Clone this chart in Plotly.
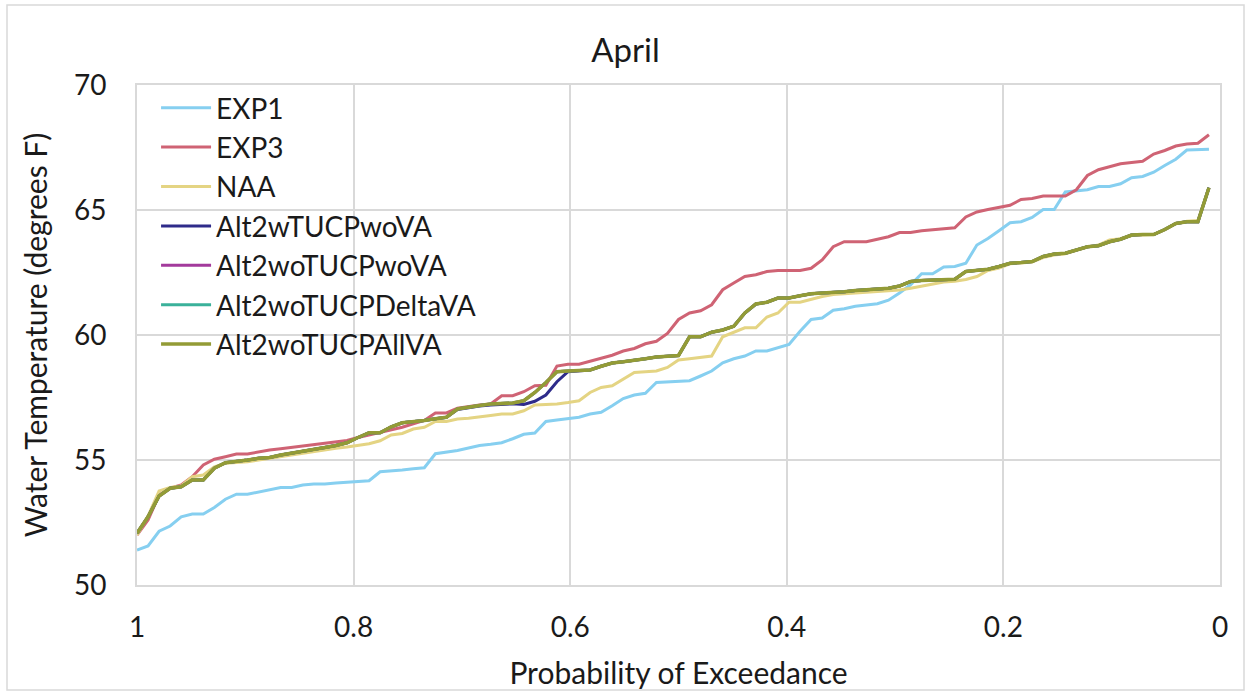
import plotly.graph_objects as go

TITLE = "April"
X_TITLE = "Probability of Exceedance"
Y_TITLE = "Water Temperature (degrees F)"
SERIES_NAMES = ["EXP1", "EXP3", "NAA", "Alt2wTUCPwoVA", "Alt2woTUCPwoVA",
                "Alt2woTUCPDeltaVA", "Alt2woTUCPAllVA"]
X_TICKS = [1, 0.8, 0.6, 0.4, 0.2, 0]
Y_TICKS = [50, 55, 60, 65, 70]

EXP1 = [51.4, 51.56, 52.15, 52.36, 52.73, 52.84, 52.84, 53.1, 53.43, 53.63,
        53.63, 53.73, 53.8, 53.9, 53.9, 54.0, 54.04, 54.04, 54.08, 54.1,
        54.13, 54.17, 54.53, 54.55, 54.6, 54.65, 54.69, 55.25, 55.3, 55.38,
        55.48, 55.58, 55.63, 55.69, 55.85, 56.03, 56.08, 56.54, 56.6, 56.64,
        56.71, 56.84, 56.91, 57.17, 57.46, 57.6, 57.67, 58.1, 58.12, 58.15,
        58.17, 58.36, 58.56, 58.89, 59.05, 59.16, 59.36, 59.36, 59.49, 59.62,
        60.15, 60.62, 60.68, 60.99, 61.05, 61.15, 61.2, 61.25, 61.39, 61.68,
        62.01, 62.45, 62.45, 62.72, 62.74, 62.87, 63.6, 63.86, 64.17, 64.49,
        64.53, 64.7, 65.02, 65.02, 65.72, 65.76, 65.81, 65.94, 65.94, 66.05,
        66.29, 66.34, 66.51, 66.78, 67.03, 67.4, 67.4, 67.43]

EXP3 = [52.0, 52.6, 53.6, 53.87, 54.0, 54.33, 54.8, 55.03, 55.13, 55.24,
        55.24, 55.33, 55.4, 55.45, 55.5, 55.55, 55.6, 55.65, 55.7, 55.78,
        55.9, 56.0, 56.13, 56.22, 56.31, 56.45, 56.58, 56.88, 56.88, 57.07,
        57.15, 57.2, 57.24, 57.57, 57.57, 57.73, 57.97, 57.99, 58.76, 58.83,
        58.83, 58.96, 59.07, 59.19, 59.36, 59.46, 59.65, 59.75, 60.06, 60.62,
        60.88, 60.97, 61.21, 61.81, 62.08, 62.34, 62.41, 62.54, 62.58, 62.58,
        62.58, 62.67, 63.0, 63.53, 63.73, 63.73, 63.73, 63.83, 63.93, 64.1,
        64.1, 64.17, 64.2, 64.24, 64.29, 64.72, 64.92, 65.02, 65.1, 65.19,
        65.42, 65.46, 65.56, 65.56, 65.56, 65.81, 66.38, 66.61, 66.74, 66.85,
        66.9, 66.95, 67.24, 67.38, 67.56, 67.64, 67.67, 68.01]

NAA = [52.0, 52.76, 53.76, 53.9, 53.96, 54.33, 54.4, 54.73, 54.87, 54.9,
       54.93, 55.0, 55.07, 55.15, 55.22, 55.28, 55.35, 55.42, 55.47, 55.52,
       55.58, 55.65, 55.77, 56.0, 56.06, 56.24, 56.31, 56.54, 56.54, 56.64,
       56.67, 56.71, 56.78, 56.84, 56.84, 56.97, 57.2, 57.22, 57.24, 57.3,
       57.37, 57.7, 57.9, 57.97, 58.23, 58.5, 58.53, 58.56, 58.7, 59.0,
       59.05, 59.1, 59.16, 59.93, 60.11, 60.29, 60.29, 60.72, 60.88, 61.31,
       61.31, 61.44, 61.54, 61.62, 61.65, 61.68, 61.7, 61.72, 61.74, 61.8,
       61.87, 61.96, 62.05, 62.12, 62.15, 62.22, 62.34, 62.58, 62.68, 62.85,
       62.88, 62.92, 63.1, 63.2, 63.25, 63.38, 63.52, 63.6, 63.8, 63.85,
       63.98, 64.0, 64.02, 64.2, 64.45, 64.55, 64.58, 65.9]

ALT2_W_TUCP_WO_VA = [52.07, 52.73, 53.56, 53.87, 53.93, 54.2, 54.2, 54.67, 54.89, 54.93,
                     55.0, 55.07, 55.1, 55.2, 55.27, 55.33, 55.4, 55.5, 55.58, 55.69,
                     55.9, 56.09, 56.09, 56.33, 56.49, 56.52, 56.58, 56.65, 56.71, 57.02,
                     57.1, 57.16, 57.2, 57.22, 57.25, 57.22, 57.35, 57.6, 58.13, 58.53,
                     58.58, 58.6, 58.75, 58.88, 58.93, 58.98, 59.05, 59.12, 59.16, 59.18,
                     59.93, 59.93, 60.11, 60.2, 60.35, 60.88, 61.24, 61.31, 61.48, 61.48,
                     61.57, 61.65, 61.68, 61.7, 61.73, 61.78, 61.8, 61.83, 61.87, 61.96,
                     62.14, 62.18, 62.2, 62.23, 62.23, 62.54, 62.58, 62.63, 62.74, 62.87,
                     62.9, 62.94, 63.14, 63.24, 63.27, 63.4, 63.53, 63.57, 63.73, 63.83,
                     64.0, 64.02, 64.02, 64.22, 64.46, 64.53, 64.53, 65.89]

ALT2_WO_TUCP_WO_VA = [52.07, 52.73, 53.56, 53.87, 53.93, 54.2, 54.2, 54.67, 54.89, 54.93,
                      55.0, 55.07, 55.1, 55.2, 55.27, 55.33, 55.4, 55.5, 55.58, 55.69,
                      55.9, 56.09, 56.09, 56.33, 56.49, 56.52, 56.58, 56.65, 56.71, 57.04,
                      57.12, 57.18, 57.24, 57.26, 57.28, 57.37, 57.7, 58.1, 58.53, 58.56,
                      58.58, 58.6, 58.75, 58.88, 58.93, 58.98, 59.05, 59.12, 59.16, 59.18,
                      59.93, 59.93, 60.11, 60.2, 60.35, 60.88, 61.24, 61.31, 61.48, 61.48,
                      61.57, 61.65, 61.68, 61.7, 61.73, 61.78, 61.8, 61.83, 61.87, 61.96,
                      62.14, 62.18, 62.2, 62.23, 62.23, 62.54, 62.58, 62.63, 62.74, 62.87,
                      62.9, 62.94, 63.14, 63.24, 63.27, 63.4, 63.53, 63.57, 63.73, 63.83,
                      64.0, 64.02, 64.02, 64.22, 64.46, 64.53, 64.53, 65.89]

ALT2_WO_TUCP_DELTA_VA = [52.07, 52.73, 53.56, 53.87, 53.93, 54.2, 54.2, 54.67, 54.89, 54.93,
                         55.0, 55.07, 55.1, 55.2, 55.27, 55.33, 55.4, 55.5, 55.58, 55.69,
                         55.9, 56.09, 56.09, 56.33, 56.49, 56.52, 56.58, 56.65, 56.71, 57.04,
                         57.12, 57.18, 57.24, 57.26, 57.28, 57.37, 57.7, 58.1, 58.53, 58.56,
                         58.58, 58.6, 58.75, 58.88, 58.93, 58.98, 59.05, 59.12, 59.16, 59.18,
                         59.93, 59.93, 60.11, 60.2, 60.35, 60.88, 61.24, 61.31, 61.48, 61.48,
                         61.57, 61.65, 61.68, 61.7, 61.73, 61.78, 61.8, 61.83, 61.87, 61.96,
                         62.14, 62.18, 62.2, 62.23, 62.23, 62.54, 62.58, 62.63, 62.74, 62.87,
                         62.9, 62.94, 63.14, 63.24, 63.27, 63.4, 63.53, 63.57, 63.73, 63.83,
                         64.0, 64.02, 64.02, 64.22, 64.46, 64.53, 64.53, 65.89]

ALT2_WO_TUCP_ALL_VA = [52.07, 52.73, 53.56, 53.87, 53.93, 54.2, 54.2, 54.67, 54.89, 54.93,
                       55.0, 55.07, 55.1, 55.2, 55.27, 55.33, 55.4, 55.5, 55.58, 55.69,
                       55.9, 56.09, 56.09, 56.33, 56.49, 56.52, 56.58, 56.65, 56.71, 57.04,
                       57.12, 57.18, 57.24, 57.26, 57.28, 57.37, 57.7, 58.1, 58.53, 58.56,
                       58.58, 58.6, 58.75, 58.88, 58.93, 58.98, 59.05, 59.12, 59.16, 59.18,
                       59.93, 59.93, 60.11, 60.2, 60.35, 60.88, 61.24, 61.31, 61.48, 61.48,
                       61.57, 61.65, 61.68, 61.7, 61.73, 61.78, 61.8, 61.83, 61.87, 61.96,
                       62.14, 62.18, 62.2, 62.23, 62.23, 62.54, 62.58, 62.63, 62.74, 62.87,
                       62.9, 62.94, 63.14, 63.24, 63.27, 63.4, 63.53, 63.57, 63.73, 63.83,
                       64.0, 64.02, 64.02, 64.22, 64.46, 64.53, 64.53, 65.89]

COLORS = ["#86CFF0", "#CF6374", "#E4D483", "#2E2B8A", "#A33A9C", "#3AB19A", "#939B36"]
WIDTHS = [3, 3, 3, 3, 3, 3, 3.5]

ALL_SERIES = [EXP1, EXP3, NAA, ALT2_W_TUCP_WO_VA, ALT2_WO_TUCP_WO_VA,
              ALT2_WO_TUCP_DELTA_VA, ALT2_WO_TUCP_ALL_VA]

N = len(EXP1)
# Exceedance probability plotting position: rank / N (highest probability first)
PROB = [(N - i) / N for i in range(N)]

FONT = "Lato, Carlito, 'Open Sans', sans-serif"
TXT = "#1a1a1a"
GRID = "#D9D9D9"

fig = go.Figure()
for name, vals, col, w in zip(SERIES_NAMES, ALL_SERIES, COLORS, WIDTHS):
    fig.add_trace(go.Scatter(x=PROB, y=vals, name=name, mode="lines",
                             line=dict(color=col, width=w)))

fig.update_layout(
    width=1251, height=694,
    paper_bgcolor="white", plot_bgcolor="white",
    margin=dict(l=137, r=31, t=85, b=109, autoexpand=False),
    font=dict(family=FONT, size=28, color=TXT),
    title=dict(text=TITLE, x=0.5, xref="container", xanchor="center",
               y=1 - 50 / 694, yref="container", yanchor="middle",
               font=dict(size=33, color=TXT)),
    showlegend=True,
    legend=dict(x=0.0176, y=1.004, xanchor="left", yanchor="top",
                bgcolor="rgba(0,0,0,0)", borderwidth=0,
                font=dict(size=28, color=TXT), tracegroupgap=0,
                itemwidth=50),
    xaxis=dict(range=[1, 0], tickvals=X_TICKS, ticktext=[str(t) for t in X_TICKS],
               showgrid=True, gridcolor=GRID, gridwidth=1.7,
               showline=True, linecolor=GRID, linewidth=1.7, mirror=True,
               zeroline=False, ticks="", ticklabelstandoff=17,
               tickfont=dict(size=28, color=TXT),
               title=dict(text=X_TITLE, font=dict(size=30, color=TXT), standoff=21)),
    yaxis=dict(range=[50, 70], tickvals=Y_TICKS,
               showgrid=True, gridcolor=GRID, gridwidth=1.7,
               showline=True, linecolor=GRID, linewidth=1.7, mirror=True,
               zeroline=False, ticks="", ticklabelstandoff=23,
               tickfont=dict(size=28, color=TXT),
               title=dict(text=Y_TITLE, font=dict(size=30, color=TXT), standoff=18)),
    shapes=[dict(type="rect", xref="paper", yref="paper",
                 x0=(7 - 137) / 1083, x1=(1244 - 137) / 1083,
                 y0=(585 - 690) / 500, y1=(585 - 5) / 500,
                 line=dict(color=GRID, width=1.5), fillcolor="rgba(0,0,0,0)",
                 layer="below")],
)

fig.write_html("out.html",
               config={"displayModeBar": False},
               post_script="document.body.style.margin='0';document.body.style.overflow='hidden';")
